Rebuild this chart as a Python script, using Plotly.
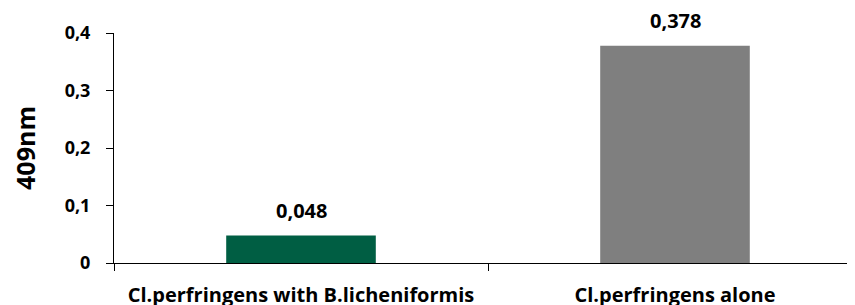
import plotly.graph_objects as go

categories = ["Cl.perfringens with B.licheniformis", "Cl.perfringens alone"]
values = [0.048, 0.378]
bar_colors = ["#005E43", "#7F7F7F"]
value_labels = ["0,048", "0,378"]
y_tickvals = [0, 0.1, 0.2, 0.3, 0.4]
y_ticktext = ["0", "0,1", "0,2", "0,3", "0,4"]

FONT = "Open Sans"
BLACK = "#000000"

fig = go.Figure()
fig.add_trace(go.Bar(
    x=categories, y=values,
    marker=dict(color=bar_colors, line=dict(width=0)),
    width=0.4,
    hoverinfo="skip",
))

for c, v, t in zip(categories, values, value_labels):
    fig.add_annotation(x=c, y=v, text=t, showarrow=False, yshift=25,
                       font=dict(family=FONT, size=20, color=BLACK, weight="bold"))

fig.update_layout(
    width=847, height=297,
    margin=dict(l=106, r=0, t=25, b=42),
    paper_bgcolor="white", plot_bgcolor="white",
    showlegend=False,
    font=dict(family=FONT, size=20, color=BLACK, weight="bold"),
    xaxis=dict(
        type="category",
        range=[-0.5, 1.4813],
        automargin=False,
        showline=True, linecolor=BLACK, linewidth=1,
        ticks="outside", ticklen=7, tickcolor=BLACK,
        tickson="boundaries",
        ticklabelstandoff=14,
        showgrid=False, zeroline=False,
        tickfont=dict(family=FONT, size=20, color=BLACK, weight="bold"),
    ),
    yaxis=dict(
        range=[0, 0.4],
        automargin=False,
        tickvals=y_tickvals, ticktext=y_ticktext,
        showline=True, linecolor=BLACK, linewidth=1,
        ticks="outside", ticklen=7, tickcolor=BLACK,
        ticklabelstandoff=12,
        showgrid=False, zeroline=False,
        tickfont=dict(family=FONT, size=18, color=BLACK, weight="bold"),
        title=dict(text="409nm", standoff=26,
                   font=dict(family=FONT, size=25, color=BLACK, weight="bold")),
    ),
)

fig.write_html("out.html")
